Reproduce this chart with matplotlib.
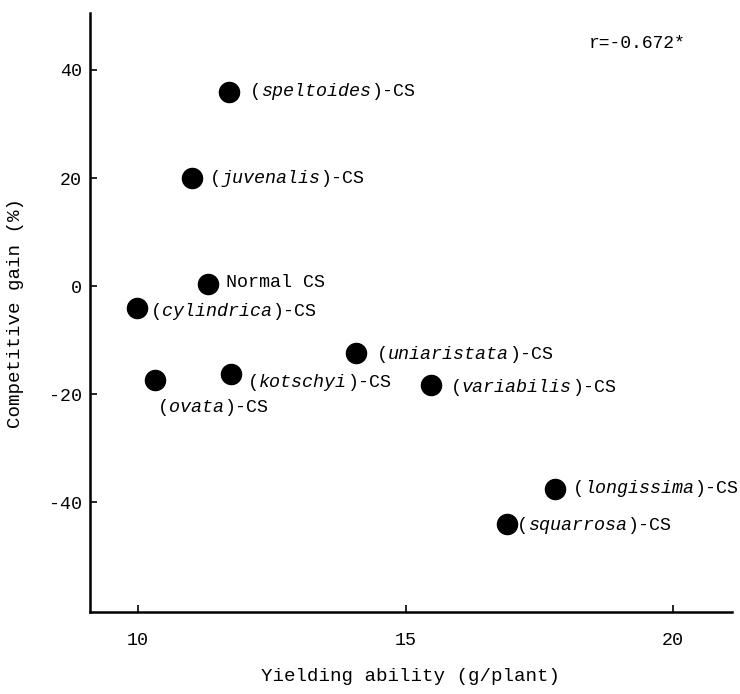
import matplotlib
matplotlib.use('Agg')
import matplotlib.pyplot as plt
from matplotlib.offsetbox import TextArea, HPacker, AnnotationBbox

# Mono "typewriter" look, italic mono for species names
plt.rcParams['font.family'] = 'Liberation Mono'
plt.rcParams['axes.unicode_minus'] = False

# Data
names = ['speltoides', 'juvenalis', None, 'cylindrica', 'ovata', 'kotschyi',
         'uniaristata', 'variabilis', 'longissima', 'squarrosa']
yielding = [11.70, 11.01, 11.31, 9.98, 10.32, 11.74, 14.08, 15.48, 17.79, 16.90]
gain = [36.0, 20.0, 0.4, -4.1, -17.4, -16.3, -12.4, -18.3, -37.5, -44.0]

# label offsets in points (dx, dy)
offsets = [(15, 0), (13, 0), (13, 1), (10, -2), (2, -20), (12, -6),
           (15, -1), (14, -2), (13, 0), (7, -1)]

fig = plt.figure(figsize=(7.4, 6.94), dpi=100)
ax = fig.add_axes([0.1216, 0.118, 0.8674, 0.863])

ax.scatter(yielding, gain, s=210, color='black', zorder=3)

mono = dict(family='Liberation Mono', size=13.2)
ital = dict(family='Liberation Mono', style='italic', size=13.2)

for name, x, y, (dx, dy) in zip(names, yielding, gain, offsets):
    if name is None:
        parts = [TextArea('Normal CS', textprops=mono)]
    else:
        parts = [TextArea('(', textprops=mono),
                 TextArea(name, textprops=ital),
                 TextArea(')-CS', textprops=mono)]
    box = HPacker(children=parts, align='baseline', pad=0, sep=0)
    ab = AnnotationBbox(box, (x, y), xybox=(dx, dy), boxcoords='offset points',
                        box_alignment=(0, 0.5), frameon=False, pad=0)
    ax.add_artist(ab)

ax.text(18.43, 44.9, 'r=-0.672*', fontsize=13, ha='left', va='center')

ax.set_xlim(9.1, 21.1)
ax.set_ylim(-60.3, 50.5)
ax.set_xticks([10, 15, 20])
ax.set_yticks([40, 20, 0, -20, -40])

ax.spines['top'].set_visible(False)
ax.spines['right'].set_visible(False)
ax.spines['left'].set_linewidth(1.8)
ax.spines['bottom'].set_linewidth(1.8)
ax.tick_params(direction='in', length=5, width=1.2, labelsize=13.2)
ax.tick_params(axis='x', pad=14)
ax.tick_params(axis='y', pad=6)

ax.set_xlabel('Yielding ability (g/plant)', fontsize=13.8, labelpad=14)
ax.set_ylabel('Competitive gain (%)', fontsize=13.8, labelpad=18)

fig.savefig('out.png', dpi=100)
